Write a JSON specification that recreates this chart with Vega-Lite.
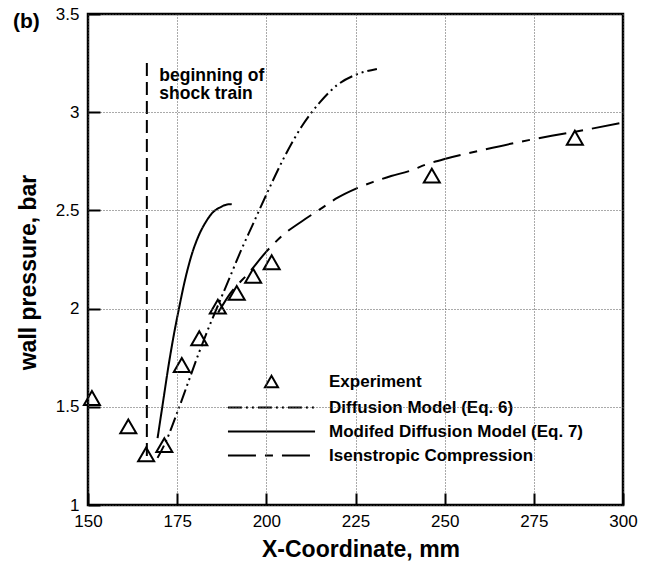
{
  "$schema": "https://vega.github.io/schema/vega-lite/v6.json",
  "autosize": "none",
  "width": 535,
  "height": 491,
  "padding": {"left": 88, "top": 14, "right": 25, "bottom": 58},
  "background": "white",
  "config": {
    "font": "Liberation Sans",
    "view": {"stroke": "black", "strokeWidth": 2.5},
    "axis": {"labelFont": "Liberation Sans", "titleFont": "Liberation Sans", "labelColor": "black", "titleColor": "black", "tickOpacity": 1}
  },
  "title": {"text": "(b)", "anchor": "start", "frame": "group", "fontSize": 21, "fontWeight": "bold", "font": "Liberation Sans", "color": "black", "dx": -75, "dy": 29, "baseline": "alphabetic", "offset": -15},
  "datasets": {
    "curves": [
      {"series": "Diffusion Model (Eq. 6)", "x": 169.5, "y": 1.24},
      {"series": "Diffusion Model (Eq. 6)", "x": 172, "y": 1.33},
      {"series": "Diffusion Model (Eq. 6)", "x": 175, "y": 1.47},
      {"series": "Diffusion Model (Eq. 6)", "x": 178, "y": 1.62},
      {"series": "Diffusion Model (Eq. 6)", "x": 181, "y": 1.77},
      {"series": "Diffusion Model (Eq. 6)", "x": 184, "y": 1.91},
      {"series": "Diffusion Model (Eq. 6)", "x": 187, "y": 2.04},
      {"series": "Diffusion Model (Eq. 6)", "x": 190, "y": 2.17},
      {"series": "Diffusion Model (Eq. 6)", "x": 193, "y": 2.3},
      {"series": "Diffusion Model (Eq. 6)", "x": 196, "y": 2.42},
      {"series": "Diffusion Model (Eq. 6)", "x": 200, "y": 2.58},
      {"series": "Diffusion Model (Eq. 6)", "x": 205, "y": 2.77},
      {"series": "Diffusion Model (Eq. 6)", "x": 210, "y": 2.93},
      {"series": "Diffusion Model (Eq. 6)", "x": 215, "y": 3.05},
      {"series": "Diffusion Model (Eq. 6)", "x": 220, "y": 3.14},
      {"series": "Diffusion Model (Eq. 6)", "x": 225, "y": 3.19},
      {"series": "Diffusion Model (Eq. 6)", "x": 231, "y": 3.22},
      {"series": "Modifed Diffusion Model (Eq. 7)", "x": 169.5, "y": 1.34},
      {"series": "Modifed Diffusion Model (Eq. 7)", "x": 171, "y": 1.52},
      {"series": "Modifed Diffusion Model (Eq. 7)", "x": 172.5, "y": 1.7},
      {"series": "Modifed Diffusion Model (Eq. 7)", "x": 174, "y": 1.86},
      {"series": "Modifed Diffusion Model (Eq. 7)", "x": 175.5, "y": 2.0},
      {"series": "Modifed Diffusion Model (Eq. 7)", "x": 177, "y": 2.13},
      {"series": "Modifed Diffusion Model (Eq. 7)", "x": 179, "y": 2.27},
      {"series": "Modifed Diffusion Model (Eq. 7)", "x": 181, "y": 2.37},
      {"series": "Modifed Diffusion Model (Eq. 7)", "x": 183, "y": 2.44},
      {"series": "Modifed Diffusion Model (Eq. 7)", "x": 185, "y": 2.49},
      {"series": "Modifed Diffusion Model (Eq. 7)", "x": 187, "y": 2.515},
      {"series": "Modifed Diffusion Model (Eq. 7)", "x": 189, "y": 2.53},
      {"series": "Modifed Diffusion Model (Eq. 7)", "x": 190.3, "y": 2.532},
      {"series": "Isenstropic Compression", "x": 186.5, "y": 1.98},
      {"series": "Isenstropic Compression", "x": 190, "y": 2.08},
      {"series": "Isenstropic Compression", "x": 195, "y": 2.18},
      {"series": "Isenstropic Compression", "x": 200, "y": 2.29},
      {"series": "Isenstropic Compression", "x": 205, "y": 2.38},
      {"series": "Isenstropic Compression", "x": 210, "y": 2.445},
      {"series": "Isenstropic Compression", "x": 215, "y": 2.505},
      {"series": "Isenstropic Compression", "x": 220, "y": 2.565},
      {"series": "Isenstropic Compression", "x": 225, "y": 2.61},
      {"series": "Isenstropic Compression", "x": 230, "y": 2.645},
      {"series": "Isenstropic Compression", "x": 235, "y": 2.675},
      {"series": "Isenstropic Compression", "x": 240, "y": 2.7},
      {"series": "Isenstropic Compression", "x": 245, "y": 2.735},
      {"series": "Isenstropic Compression", "x": 250, "y": 2.762},
      {"series": "Isenstropic Compression", "x": 260, "y": 2.805},
      {"series": "Isenstropic Compression", "x": 270, "y": 2.845},
      {"series": "Isenstropic Compression", "x": 280, "y": 2.88},
      {"series": "Isenstropic Compression", "x": 290, "y": 2.912},
      {"series": "Isenstropic Compression", "x": 300, "y": 2.947}
    ],
    "experiment": [
      {"x": 151.1, "y": 1.545},
      {"x": 161.3, "y": 1.4},
      {"x": 166.3, "y": 1.258},
      {"x": 171.4, "y": 1.305},
      {"x": 176.3, "y": 1.713},
      {"x": 181.2, "y": 1.849},
      {"x": 186.4, "y": 2.01},
      {"x": 191.7, "y": 2.08},
      {"x": 196.3, "y": 2.167},
      {"x": 201.5, "y": 2.236},
      {"x": 246.4, "y": 2.677},
      {"x": 286.5, "y": 2.87}
    ],
    "shock": [{"x": 166.5, "y": 1.25, "y2": 3.28}],
    "notes": [
      {"x": 170, "y": 3.158, "label": "beginning of"},
      {"x": 170, "y": 3.066, "label": "shock train"}
    ]
  },
  "layer": [
    {
      "data": {"name": "curves"},
      "mark": {"type": "line", "color": "black", "strokeWidth": 2, "interpolate": "monotone", "clip": true},
      "encoding": {
        "x": {"field": "x", "type": "quantitative", "scale": {"domain": [150, 300], "nice": false, "zero": false},
          "axis": {"orient": "bottom", "offset": -12, "zindex": 1, "values": [150, 175, 200, 225, 250, 275, 300], "title": "X-Coordinate, mm", "titleFontSize": 23, "titleFontWeight": "bold", "titleX": 272.5, "titleY": 63.7, "titleBaseline": "alphabetic", "titleAlign": "center", "labelFontSize": 17, "labelPadding": 8, "ticks": true, "tickSize": 12, "tickWidth": 2, "tickColor": "black", "tickOpacity": 1, "domain": false, "grid": true, "gridColor": "#555", "gridDash": [1, 2], "gridWidth": 1, "labelFlush": false, "labelOverlap": false}},
        "y": {"field": "y", "type": "quantitative", "scale": {"domain": [1, 3.5], "nice": false, "zero": false},
          "axis": {"orient": "left", "offset": -12, "zindex": 1, "values": [1, 1.5, 2, 2.5, 3, 3.5], "format": "~g", "title": "wall pressure, bar", "titleFontSize": 23, "titleFontWeight": "bold", "titleX": -65, "titleY": 258, "titleAngle": -90, "titleBaseline": "alphabetic", "titleAlign": "center", "labelFontSize": 17, "labelPadding": 9, "ticks": true, "tickSize": 12, "tickWidth": 2, "tickColor": "black", "tickOpacity": 1, "domain": false, "grid": true, "gridColor": "#555", "gridDash": [1, 2], "gridWidth": 1, "labelFlush": false, "labelOverlap": false}},
        "strokeDash": {"field": "series", "type": "nominal",
          "scale": {"domain": ["Experiment", "Diffusion Model (Eq. 6)", "Modifed Diffusion Model (Eq. 7)", "Isenstropic Compression"],
            "range": [[1, 0], [14, 4, 2, 4, 2, 4], [1, 0], [28, 9, 8, 9]]},
          "legend": {"orient": "none", "legendX": 175, "legendY": 359, "title": null, "padding": 0, "symbolSize": 169, "symbolStrokeWidth": 2, "symbolStrokeColor": "black", "labelOffset": 49, "labelFontSize": 17, "labelFontWeight": "bold", "labelFont": "Liberation Sans", "labelColor": "black", "labelLimit": 0, "rowPadding": 6,
            "encode": {"symbols": {"update": {"shape": {"signal": "datum.value === 'Experiment' ? 'triangle-up' : 'M-6.7,0L6.7,0'"}, "fill": {"value": "transparent"}, "stroke": {"value": "black"}, "strokeWidth": {"value": 2}}}}}}
      }
    },
    {
      "data": {"name": "experiment"},
      "mark": {"type": "point", "shape": "triangle-up", "filled": false, "color": "black", "strokeWidth": 2, "size": 256, "opacity": 1},
      "encoding": {
        "x": {"field": "x", "type": "quantitative"},
        "y": {"field": "y", "type": "quantitative"}
      }
    },
    {
      "data": {"name": "shock"},
      "mark": {"type": "rule", "color": "black", "strokeWidth": 2, "strokeDash": [13, 6]},
      "encoding": {
        "x": {"field": "x", "type": "quantitative"},
        "y": {"field": "y", "type": "quantitative"},
        "y2": {"field": "y2"}
      }
    },
    {
      "data": {"name": "notes"},
      "mark": {"type": "text", "align": "left", "baseline": "alphabetic", "fontSize": 17.5, "fontWeight": "bold", "font": "Liberation Sans", "color": "black"},
      "encoding": {
        "x": {"field": "x", "type": "quantitative"},
        "y": {"field": "y", "type": "quantitative"},
        "text": {"field": "label"}
      }
    }
  ]
}
